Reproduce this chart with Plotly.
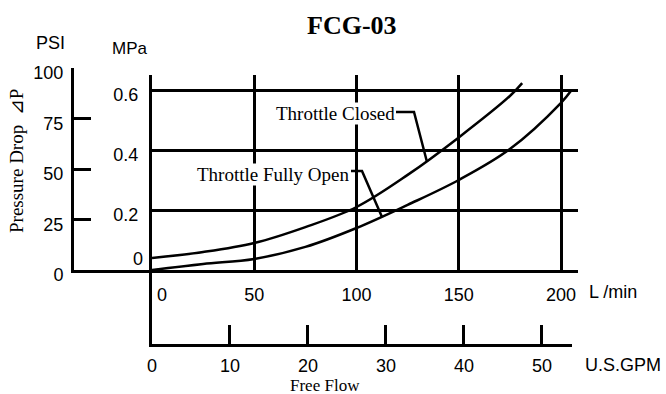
import plotly.graph_objects as go

# ---------------- data ----------------
flow_closed_lpm = [0, 25, 50, 75, 100, 125, 150, 175, 181]
dp_closed_mpa = [0.04, 0.06, 0.09, 0.143, 0.21, 0.317, 0.442, 0.58, 0.623]

flow_open_lpm = [0, 25, 50, 75, 100, 125, 150, 175, 200, 205]
dp_open_mpa = [0.0, 0.02, 0.037, 0.077, 0.14, 0.217, 0.30, 0.403, 0.557, 0.598]

lpm_ticks = [0, 50, 100, 150, 200]
lpm_ticktext = ["\u2007\u20070", "50", "100", "150", "200"]
mpa_ticks = [0, 0.2, 0.4, 0.6]
mpa_ticktext = ["", "0.2", "0.4", "0.6"]
psi_ticks = [0, 25, 50, 75, 100]
gpm_ticks = [0, 10, 20, 30, 40, 50]

# ---------------- layout helpers ----------------
W, H = 666, 394
def fx(p):
    return p / W
def fy(p):
    return 1 - p / H

SANS = "Liberation Sans, Arial, sans-serif"
SERIF = "Liberation Serif, Times New Roman, serif"
LW = 3

fig = go.Figure()
fig.add_trace(go.Scatter(x=flow_closed_lpm, y=dp_closed_mpa, mode="lines",
                         line=dict(color="black", width=2.5, shape="spline"),
                         name="Throttle Closed", showlegend=False, xaxis="x", yaxis="y"))
fig.add_trace(go.Scatter(x=flow_open_lpm, y=dp_open_mpa, mode="lines",
                         line=dict(color="black", width=2.5, shape="spline"),
                         name="Throttle Fully Open", showlegend=False, xaxis="x", yaxis="y"))
fig.add_trace(go.Scatter(x=[None], y=[None], xaxis="x2", yaxis="y2", showlegend=False, hoverinfo="skip"))
fig.add_trace(go.Scatter(x=[None], y=[None], xaxis="x3", yaxis="y3", showlegend=False, hoverinfo="skip"))

tickfont = dict(family=SANS, size=18, color="black")
common = dict(linecolor="black", linewidth=LW, zeroline=False, tickfont=tickfont,
              tickcolor="black", automargin=False)

fig.update_layout(
    width=W, height=H, margin=dict(l=0, r=0, t=0, b=0, pad=0, autoexpand=False),
    paper_bgcolor="white", plot_bgcolor="rgba(0,0,0,0)",
    xaxis=dict(domain=[fx(152), fx(578)], range=[0, 208.3], anchor="y",
               tickvals=lpm_ticks, ticktext=lpm_ticktext, ticks="",
               showgrid=True, gridcolor="black", gridwidth=LW, showline=True,
               ticklabelstandoff=6, **common),
    yaxis=dict(domain=[fy(270), fy(75)], range=[0, 0.65], anchor="x",
               tickvals=mpa_ticks, ticktext=mpa_ticktext, ticks="",
               showgrid=True, gridcolor="black", gridwidth=LW, showline=True,
               ticklabelstandoff=7, ticklabelshift=5, **common),
    xaxis2=dict(domain=[fx(74), fx(152)], range=[0, 1], anchor="y2",
                showline=True, showticklabels=False, ticks="", showgrid=False, **common),
    yaxis2=dict(domain=[fy(270), fy(68)], range=[0, 100], anchor="x2",
                tickvals=psi_ticks, ticks="inside", ticklen=17, tickwidth=LW,
                showline=True, showgrid=False, ticklabelstandoff=4, ticklabelshift=5, **common),
    xaxis3=dict(domain=[fx(152), fx(572)], range=[0, 53.85], anchor="y3",
                tickvals=gpm_ticks, ticks="inside", ticklen=19, tickwidth=LW,
                showline=True, showgrid=False, ticklabelstandoff=3, **common),
    yaxis3=dict(domain=[fy(344), fy(270)], range=[0, 1], anchor="x3",
                showline=True, showticklabels=False, ticks="", showgrid=False, **common),
)

def ann(text, x, y, size=17, family=SANS, xanchor="center", **kw):
    fig.add_annotation(text=text, x=fx(x), y=fy(y), xref="paper", yref="paper",
                       xanchor=xanchor, yanchor="middle", showarrow=False,
                       font=dict(family=family, size=size, color="black"), **kw)

ann("<b>FCG-03</b>", 352, 25, size=26, family=SERIF)
ann("PSI", 50, 43, size=18)
ann("MPa", 130, 49)
ann("0", 138, 259, size=18)
ann("L /min", 587, 292, size=18, xanchor="left")
ann("U.S.GPM", 583, 365, size=18, xanchor="left")
ann("Free Flow", 325, 385, size=17, family=SERIF, borderpad=0)
ann("Pressure Drop  ⊿P", 17, 161, size=19, family=SERIF, textangle=-90)
ann("Throttle Closed", 336, 114, size=19, family=SERIF, bgcolor="white", borderpad=0)
ann("Throttle Fully Open", 273, 174, size=19, family=SERIF, bgcolor="white", borderpad=0)

def path(pts):
    return "M " + " L ".join(f"{fx(a)},{fy(b)}" for a, b in pts)

fig.add_shape(type="path", xref="paper", yref="paper",
              path=path([(396, 112), (414, 112), (427, 162)]),
              line=dict(color="black", width=2.5))
fig.add_shape(type="path", xref="paper", yref="paper",
              path=path([(351, 171), (362, 171), (382, 217)]),
              line=dict(color="black", width=2.5))

fig.write_html("out.html", config={"displayModeBar": False},
               post_script="document.body.style.margin='0';")
